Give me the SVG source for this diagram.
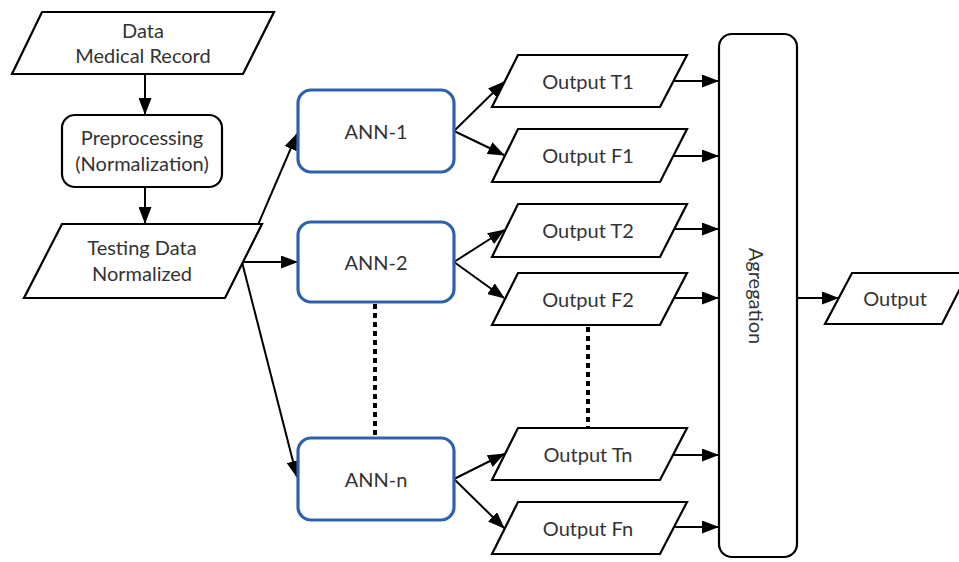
<svg xmlns="http://www.w3.org/2000/svg" width="959" height="562" viewBox="0 0 959 562">
<defs>
<style>
.shape{fill:#fff;stroke:#000;stroke-width:2.2}
.ann{fill:#fff;stroke:#2f62ad;stroke-width:3.2}
.t{font-family:Lato,"Open Sans","Liberation Sans",sans-serif;font-size:20px;fill:#333;text-anchor:middle;dominant-baseline:central}
.c{fill:none;stroke:#000;stroke-width:2}
.dot{fill:none;stroke:#000;stroke-width:4;stroke-dasharray:5 4}
</style>
<marker id="ah" markerUnits="userSpaceOnUse" markerWidth="17" markerHeight="13" refX="16" refY="6.5" orient="auto">
<path d="M0,0 L17,6.5 L0,13 z" fill="#000"/>
</marker>
</defs>
<rect width="959" height="562" fill="#fff"/>
<g id="connectors">
<line class="c" x1="145" y1="74" x2="145" y2="114" marker-end="url(#ah)"/>
<line class="c" x1="145" y1="187" x2="145" y2="223" marker-end="url(#ah)"/>
<line class="c" x1="242" y1="262" x2="297" y2="134" marker-end="url(#ah)"/>
<line class="c" x1="242" y1="262" x2="297" y2="262" marker-end="url(#ah)"/>
<line class="c" x1="242" y1="262" x2="297" y2="477" marker-end="url(#ah)"/>
<line class="c" x1="454" y1="131" x2="504" y2="82" marker-end="url(#ah)"/>
<line class="c" x1="454" y1="131" x2="504" y2="155" marker-end="url(#ah)"/>
<line class="c" x1="454" y1="262" x2="504" y2="230" marker-end="url(#ah)"/>
<line class="c" x1="454" y1="262" x2="504" y2="298" marker-end="url(#ah)"/>
<line class="c" x1="454" y1="479" x2="504" y2="454" marker-end="url(#ah)"/>
<line class="c" x1="454" y1="479" x2="504" y2="528" marker-end="url(#ah)"/>
<line class="c" x1="674" y1="81" x2="718" y2="81" marker-end="url(#ah)"/>
<line class="c" x1="674" y1="156" x2="718" y2="156" marker-end="url(#ah)"/>
<line class="c" x1="674" y1="229" x2="718" y2="229" marker-end="url(#ah)"/>
<line class="c" x1="674" y1="298" x2="718" y2="298" marker-end="url(#ah)"/>
<line class="c" x1="674" y1="455" x2="718" y2="455" marker-end="url(#ah)"/>
<line class="c" x1="674" y1="527" x2="718" y2="527" marker-end="url(#ah)"/>
<line class="c" x1="797" y1="298" x2="838" y2="298" marker-end="url(#ah)"/>
<line class="dot" x1="375" y1="304" x2="375" y2="437"/>
<line class="dot" x1="588" y1="327" x2="588" y2="427"/>
</g>
<g id="data">
<polygon class="shape" points="42,12 274,12 243,74 12,74"/>
<text class="t" x="143" y="30">Data</text>
<text class="t" x="143" y="55">Medical Record</text>
</g>
<g id="preprocessing">
<rect class="shape" x="62" y="115" width="160" height="72" rx="13"/>
<text class="t" x="142" y="137">Preprocessing</text>
<text class="t" x="142" y="163">(Normalization)</text>
</g>
<g id="testing">
<polygon class="shape" points="62,224 262,224 225,298 24,298"/>
<text class="t" x="142" y="247">Testing Data</text>
<text class="t" x="142" y="273">Normalized</text>
</g>
<g id="ann1">
<rect class="ann" x="298" y="90" width="156" height="82" rx="13"/>
<text class="t" x="376" y="131">ANN-1</text>
</g>
<g id="ann2">
<rect class="ann" x="298" y="222" width="156" height="80" rx="13"/>
<text class="t" x="376" y="262">ANN-2</text>
</g>
<g id="annn">
<rect class="ann" x="298" y="438" width="156" height="82" rx="13"/>
<text class="t" x="376" y="479">ANN-n</text>
</g>
<g id="outT1">
<polygon class="shape" points="518,55 687,55 660,107 492,107"/>
<text class="t" x="588" y="81">Output T1</text>
</g>
<g id="outF1">
<polygon class="shape" points="518,129 687,129 660,182 492,182"/>
<text class="t" x="588" y="155">Output F1</text>
</g>
<g id="outT2">
<polygon class="shape" points="518,204 687,204 660,257 492,257"/>
<text class="t" x="588" y="230">Output T2</text>
</g>
<g id="outF2">
<polygon class="shape" points="518,273 687,273 660,325 492,325"/>
<text class="t" x="588" y="299">Output F2</text>
</g>
<g id="outTn">
<polygon class="shape" points="518,428 687,428 660,480 492,480"/>
<text class="t" x="588" y="454">Output Tn</text>
</g>
<g id="outFn">
<polygon class="shape" points="518,502 687,502 660,554 492,554"/>
<text class="t" x="588" y="528">Output Fn</text>
</g>
<g id="agregation">
<rect class="shape" x="719" y="34" width="78" height="523" rx="13"/>
<text class="t" x="0" y="0" transform="translate(757,296) rotate(90)">Agregation</text>
</g>
<g id="output">
<polygon class="shape" points="852,273 968,273 942,324 825,324"/>
<text class="t" x="895" y="298">Output</text>
</g>
</svg>
